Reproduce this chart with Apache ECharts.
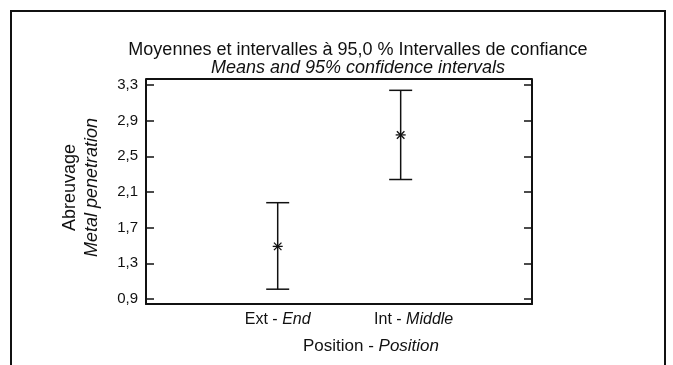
<!DOCTYPE html>
<html>
<head>
<meta charset="utf-8">
<script src="https://cdn.jsdelivr.net/npm/echarts@6/dist/echarts.min.js"></script>
<style>
  html, body { margin: 0; padding: 0; background: #fff; }
  #main { width: 673px; height: 365px; }
</style>
</head>
<body>
<div id="main"></div>
<script>
// data
var positions = ["Ext", "Int"];
var positionsEn = ["End", "Middle"];
var means = [1.49, 2.74];
var lower = [1.01, 2.24];
var upper = [1.98, 3.24];
var yTicks = [0.9, 1.3, 1.7, 2.1, 2.5, 2.9, 3.3];

var FONT = "Liberation Sans";
var INK = "#111";

var chart = echarts.init(document.getElementById("main"));

var seriesData = [];
positions.forEach(function (p, i) {
  seriesData.push([i, means[i], lower[i], upper[i]]);
});

function renderBar(params, api) {
  var x = api.value(0);
  var pMean = api.coord([x, api.value(1)]);
  var pLow = api.coord([x, api.value(2)]);
  var pHigh = api.coord([x, api.value(3)]);
  var cap = 11.5;
  var s = 5;
  var st = { stroke: INK, lineWidth: 1.5 };
  var thin = { stroke: INK, lineWidth: 1.3 };
  return {
    type: "group",
    children: [
      { type: "line", shape: { x1: pLow[0], y1: pLow[1], x2: pHigh[0], y2: pHigh[1] }, style: st },
      { type: "line", shape: { x1: pLow[0] - cap, y1: pLow[1], x2: pLow[0] + cap, y2: pLow[1] }, style: st },
      { type: "line", shape: { x1: pHigh[0] - cap, y1: pHigh[1], x2: pHigh[0] + cap, y2: pHigh[1] }, style: st },
      // asterisk at the mean
      { type: "line", shape: { x1: pMean[0] - s, y1: pMean[1], x2: pMean[0] + s, y2: pMean[1] }, style: thin },
      { type: "line", shape: { x1: pMean[0] - s * 0.75, y1: pMean[1] - s * 0.75, x2: pMean[0] + s * 0.75, y2: pMean[1] + s * 0.75 }, style: thin },
      { type: "line", shape: { x1: pMean[0] - s * 0.75, y1: pMean[1] + s * 0.75, x2: pMean[0] + s * 0.75, y2: pMean[1] - s * 0.75 }, style: thin }
    ]
  };
}

var yAxisCommon = {
  type: "value",
  min: 0.844,
  max: 3.367,
  splitLine: { show: false },
  axisLine: { show: true, onZero: false, lineStyle: { color: INK, width: 2 } },
  axisTick: { show: true, inside: true, length: 8, customValues: yTicks, lineStyle: { color: INK, width: 1.5 } }
};

var option = {
  backgroundColor: "#fff",
  animation: false,
  title: [
    {
      text: "Moyennes et intervalles à 95,0 % Intervalles de confiance",
      left: 353,
      top: 36,
      textAlign: "center",
      textStyle: { fontFamily: FONT, fontSize: 18, fontWeight: "normal", color: INK }
    },
    {
      text: "Means and 95% confidence intervals",
      left: 353,
      top: 54,
      textAlign: "center",
      textStyle: { fontFamily: FONT, fontSize: 18, fontWeight: "normal", fontStyle: "italic", color: INK }
    },
    {
      text: "{n|Position - }{i|Position}",
      left: 366,
      top: 333,
      textAlign: "center",
      textStyle: {
        rich: {
          n: { fontFamily: FONT, fontSize: 17, fontWeight: "normal", color: INK },
          i: { fontFamily: FONT, fontSize: 17, fontWeight: "normal", fontStyle: "italic", color: INK }
        }
      }
    }
  ],
  grid: { left: 146, right: 141, top: 79, bottom: 61, show: false },
  xAxis: {
    type: "value",
    min: -1.071,
    max: 2.068,
    splitLine: { show: false },
    axisLine: { show: true, onZero: false, lineStyle: { color: INK, width: 2 } },
    axisTick: { show: false },
    axisLabel: {
      customValues: [0, 1],
      margin: 8,
      formatter: function (v) {
        var i = Math.round(v);
        var pad = i === 1 ? "{p|}" : "";
        return pad + "{n|" + positions[i] + " - }{i|" + positionsEn[i] + "}";
      },
      rich: {
        p: { width: 26 },
        n: { fontFamily: FONT, fontSize: 16, color: INK },
        i: { fontFamily: FONT, fontSize: 16, fontStyle: "italic", color: INK }
      }
    }
  },
  yAxis: [
    Object.assign({}, yAxisCommon, {
      position: "left",
      name: "{n|Abreuvage}\n{i|Metal penetration}",
      nameLocation: "middle",
      nameGap: 44,
      nameRotate: 90,
      nameTextStyle: {
        padding: [0, 0, 0, 8],
        rich: {
          n: { fontFamily: FONT, fontSize: 18, color: INK, lineHeight: 21 },
          i: { fontFamily: FONT, fontSize: 18, fontStyle: "italic", color: INK, lineHeight: 21 }
        }
      },
      axisLabel: {
        customValues: yTicks,
        margin: 8,
        fontFamily: FONT,
        fontSize: 15,
        color: INK,
        formatter: function (v) { return v.toFixed(1).replace(".", ","); }
      }
    }),
    Object.assign({}, yAxisCommon, {
      position: "right",
      axisLabel: { show: false }
    })
  ],
  graphic: [
    {
      type: "rect",
      silent: true,
      shape: { x: 11, y: 11, width: 654, height: 370 },
      style: { fill: "none", stroke: INK, lineWidth: 2 }
    },
    {
      type: "line",
      silent: true,
      shape: { x1: 146, y1: 79, x2: 532, y2: 79 },
      style: { stroke: INK, lineWidth: 2 }
    }
  ],
  series: [
    {
      type: "custom",
      renderItem: renderBar,
      encode: { x: 0, y: [1, 2, 3] },
      data: seriesData,
      clip: false
    }
  ]
};

chart.setOption(option);
</script>
</body>
</html>
